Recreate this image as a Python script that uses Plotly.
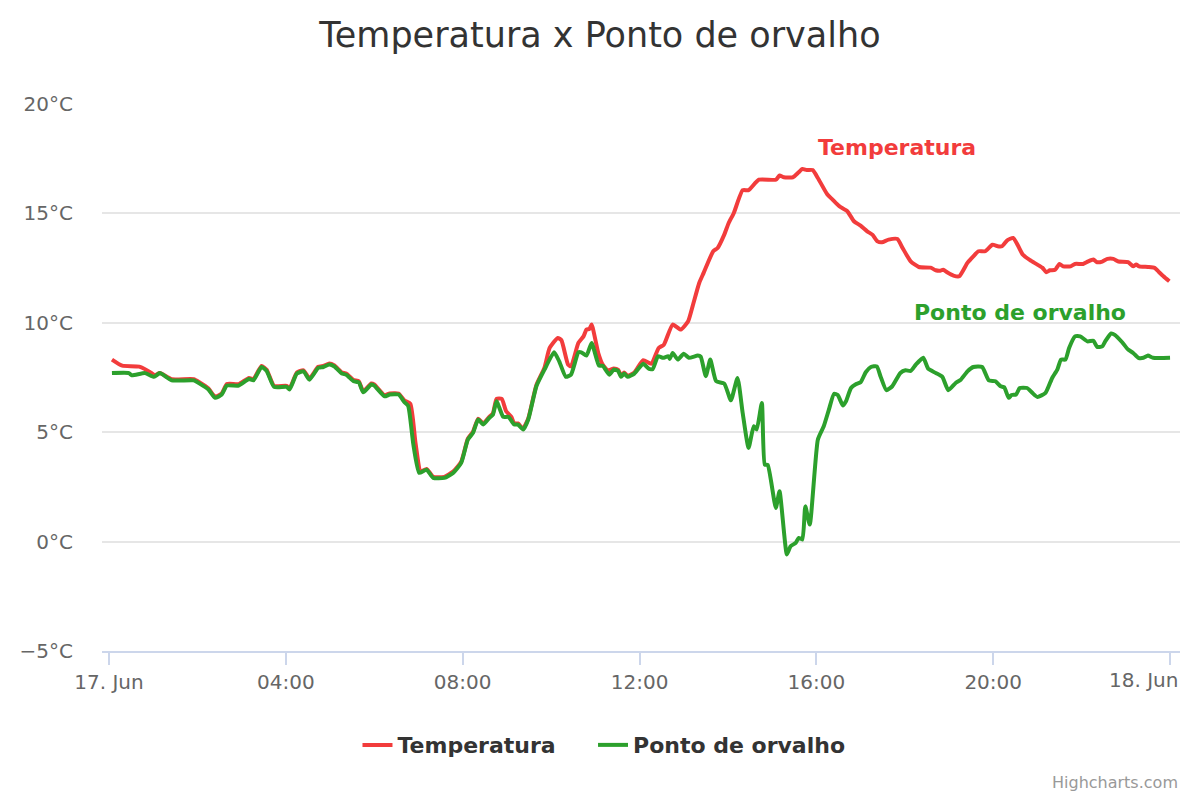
import pandas as pd
import plotly.graph_objects as go

# minutes after 17 Jun 00:00 and readings in °C
temp_min = [4, 18, 41, 58, 62, 69, 85, 115, 123, 135, 144, 153, 160, 176, 190, 196, 207, 214, 224, 241,
            245, 255, 264, 272, 284, 291, 299, 306, 316, 322, 332, 339, 345, 356, 360, 374, 381, 393, 401, 409,
            416, 423, 431, 440, 455, 467, 478, 487, 494, 501, 508, 516, 521, 526, 533, 539, 546, 550, 555, 562,
            569, 580, 591, 598, 609, 614, 623, 627, 637, 644, 648, 652, 655, 664, 670, 677, 685, 691, 695, 699,
            704, 713, 725, 736, 746, 753, 765, 776, 786, 792, 801, 807, 820, 826, 835, 841, 848, 860, 868, 882,
            905, 910, 916, 928, 936, 941, 947, 955, 962, 975, 982, 991, 1002, 1011, 1020, 1029, 1036, 1043, 1049, 1058,
            1070, 1077, 1088, 1099, 1115, 1122, 1128, 1132, 1138, 1146, 1154, 1165, 1173, 1180, 1189, 1199, 1206, 1212, 1219, 1227,
            1233, 1240, 1250, 1260, 1267, 1272, 1277, 1284, 1290, 1295, 1305, 1311, 1322, 1329, 1336, 1341, 1348, 1355, 1363, 1370,
            1383, 1390, 1394, 1398, 1410, 1419, 1424, 1431, 1439]
temp_val = [8.32, 8.04, 8.0, 7.7, 7.6, 7.7, 7.42, 7.42, 7.27, 7.0, 6.62, 6.77, 7.2, 7.2, 7.48, 7.42, 8.03, 7.85, 7.12, 7.12,
            7.0, 7.73, 7.83, 7.45, 7.99, 8.03, 8.14, 8.05, 7.73, 7.68, 7.38, 7.33, 6.87, 7.23, 7.18, 6.69, 6.77, 6.77, 6.45, 6.3,
            4.5, 3.2, 3.32, 2.96, 2.96, 3.2, 3.65, 4.7, 5.02, 5.62, 5.4, 5.7, 5.85, 6.52, 6.52, 5.96, 5.7, 5.4, 5.4, 5.17,
            5.63, 7.15, 7.95, 8.85, 9.31, 9.2, 8.09, 8.01, 9.08, 9.38, 9.69, 9.72, 9.92, 8.62, 8.09, 7.83, 7.91, 7.85, 7.58, 7.73,
            7.58, 7.73, 8.29, 8.13, 8.85, 9.0, 9.92, 9.69, 10.07, 10.75, 11.82, 12.28, 13.27, 13.42, 14.03, 14.56, 15.02, 16.06, 16.06, 16.54,
            16.54, 16.73, 16.65, 16.65, 16.88, 17.03, 16.98, 16.98, 16.62, 15.86, 15.63, 15.33, 15.1, 14.64, 14.44, 14.18, 14.03, 13.72, 13.68, 13.8,
            13.83, 13.42, 12.81, 12.55, 12.52, 12.4, 12.38, 12.43, 12.3, 12.16, 12.13, 12.74, 13.04, 13.27, 13.27, 13.57, 13.5, 13.5, 13.77, 13.88,
            13.57, 13.12, 12.86, 12.66, 12.51, 12.31, 12.4, 12.42, 12.69, 12.58, 12.58, 12.69, 12.69, 12.81, 12.89, 12.77, 12.8, 12.92, 12.92, 12.8,
            12.77, 12.58, 12.66, 12.58, 12.55, 12.51, 12.35, 12.13, 11.9]

dew_min = [4, 27, 31, 49, 61, 69, 85, 115, 123, 135, 144, 153, 160, 176, 190, 196, 207, 214, 224, 241,
           245, 255, 264, 272, 284, 291, 299, 306, 316, 322, 332, 339, 345, 356, 360, 374, 381, 393, 401, 406,
           413, 421, 431, 440, 455, 467, 478, 487, 494, 501, 508, 516, 521, 526, 535, 542, 550, 555, 562, 569,
           580, 591, 604, 611, 620, 627, 637, 641, 648, 655, 665, 670, 679, 685, 691, 695, 699, 704, 713, 725,
           733, 738, 745, 752, 759, 761, 765, 772, 780, 787, 799, 803, 810, 816, 824, 835, 844, 853, 860, 868,
           875, 879, 886, 890, 894, 905, 910, 920, 925, 932, 936, 941, 945, 951, 962, 970, 977, 984, 989, 996,
           1000, 1007, 1013, 1020, 1027, 1034, 1042, 1047, 1055, 1063, 1074, 1081, 1088, 1095, 1105, 1112, 1122, 1131, 1139, 1149,
           1156, 1165, 1173, 1185, 1194, 1203, 1210, 1215, 1221, 1225, 1231, 1236, 1246, 1253, 1260, 1271, 1280, 1287, 1292, 1298,
           1303, 1311, 1318, 1328, 1336, 1341, 1348, 1352, 1360, 1365, 1375, 1383, 1390, 1397, 1404, 1410, 1417, 1440]
dew_val = [7.7, 7.7, 7.6, 7.7, 7.53, 7.7, 7.37, 7.37, 7.22, 6.95, 6.57, 6.72, 7.13, 7.13, 7.43, 7.37, 7.98, 7.8, 7.07, 7.07,
           6.95, 7.68, 7.78, 7.4, 7.94, 7.98, 8.09, 8.0, 7.68, 7.63, 7.33, 7.28, 6.82, 7.18, 7.13, 6.64, 6.72, 6.72, 6.37, 6.2,
           4.45, 3.14, 3.29, 2.91, 2.91, 3.14, 3.6, 4.66, 4.97, 5.58, 5.35, 5.65, 5.8, 6.41, 5.7, 5.7, 5.35, 5.35, 5.12, 5.58,
           7.1, 7.86, 8.65, 8.24, 7.53, 7.63, 8.65, 8.65, 8.5, 9.08, 8.04, 8.04, 7.63, 7.86, 7.8, 7.53, 7.68, 7.53, 7.68, 8.13,
           7.89, 7.89, 8.47, 8.4, 8.47, 8.35, 8.62, 8.32, 8.59, 8.4, 8.5, 8.45, 7.56, 8.32, 7.33, 7.22, 6.46, 7.48, 5.88, 4.28,
           5.27, 5.12, 6.34, 3.52, 3.5, 1.54, 2.3, -0.59, -0.21, -0.06, 0.17, 0.1, 1.61, 0.78, 4.66, 5.27, 6.03, 6.76, 6.7, 6.22,
           6.4, 7.02, 7.18, 7.28, 7.74, 7.98, 8.01, 7.56, 6.92, 7.1, 7.71, 7.83, 7.8, 8.09, 8.4, 7.89, 7.71, 7.53, 6.92, 7.25,
           7.4, 7.78, 7.98, 7.98, 7.37, 7.33, 7.1, 7.05, 6.57, 6.7, 6.72, 7.02, 7.02, 6.8, 6.61, 6.8, 7.48, 7.86, 8.32, 8.32,
           8.85, 9.38, 9.38, 9.15, 9.18, 8.9, 8.92, 9.15, 9.51, 9.45, 9.11, 8.78, 8.62, 8.4, 8.4, 8.5, 8.4, 8.4]

tick_hours = [0, 4, 8, 12, 16, 20]
tick_text = ['17. Jun', '04:00', '08:00', '12:00', '16:00', '20:00']
end_label = '18. Jun'
y_ticks = [-5, 0, 5, 10, 15, 20]

day0 = pd.Timestamp('2023-06-17')
t_x = [day0 + pd.Timedelta(minutes=m) for m in temp_min]
d_x = [day0 + pd.Timedelta(minutes=m) for m in dew_min]

RED = '#f23c3c'
GREEN = '#2ca02c'
FONT = 'DejaVu Sans'

fig = go.Figure()
fig.add_trace(go.Scatter(x=t_x, y=temp_val, name='Temperatura', mode='lines', legend='legend',
                         line=dict(color=RED, width=4, shape='spline', smoothing=0.5)))
fig.add_trace(go.Scatter(x=d_x, y=dew_val, name='Ponto de orvalho', mode='lines', legend='legend2',
                         line=dict(color=GREEN, width=4, shape='spline', smoothing=0.5)))

# series labels inside the plot
fig.add_annotation(x=day0 + pd.Timedelta(minutes=1070), y=18.0, text='<b>Temperatura</b>',
                   showarrow=False, font=dict(color=RED, size=22, family=FONT))
fig.add_annotation(x=day0 + pd.Timedelta(minutes=1236), y=10.45, text='<b>Ponto de orvalho</b>',
                   showarrow=False, font=dict(color=GREEN, size=22, family=FONT))
# last x label, pulled inside like highcharts does
fig.add_annotation(xref='paper', yref='paper', x=1.0, y=-0.053, xanchor='right', yanchor='middle',
                   text=end_label, showarrow=False, font=dict(color='#666666', size=20, family=FONT))
fig.add_annotation(xref='paper', yref='paper', x=1.0, y=-0.241, xanchor='right', yanchor='middle',
                   text='Highcharts.com', showarrow=False, font=dict(color='#999999', size=16, family=FONT))

legend_style = dict(orientation='h', xanchor='left', y=-0.172, yanchor='middle',
                    font=dict(size=22, color='#333333', family=FONT, weight='bold'), itemwidth=30)

fig.update_layout(
    width=1200, height=800,
    paper_bgcolor='white', plot_bgcolor='white',
    margin=dict(l=92, r=28, t=96, b=157),
    title=dict(text='Temperatura x Ponto de orvalho', x=0.4933, xanchor='center', y=0.966, yanchor='middle',
               font=dict(size=35, color='#333333', family=FONT)),
    font=dict(family=FONT, color='#666666'),
    showlegend=True,
    legend=dict(x=0.237, **legend_style),
    legend2=dict(x=0.4555, **legend_style),
    hovermode='x unified',
)
fig.update_xaxes(
    range=[day0 - pd.Timedelta(minutes=9.5), day0 + pd.Timedelta(minutes=1453.5)],
    tickvals=[day0 + pd.Timedelta(hours=h) for h in tick_hours + [24]], ticktext=tick_text + [''],
    showgrid=False, showline=True, linecolor='#ccd6eb', linewidth=1.5,
    ticks='outside', ticklen=12, tickcolor='#ccd6eb', tickwidth=1.5,
    tickfont=dict(size=20, color='#666666'), zeroline=False,
)
fig.update_yaxes(
    range=[-5, 20], tickvals=y_ticks, ticktext=[f'{v}°C'.replace('-', '−') for v in y_ticks],
    showgrid=True, gridcolor='#e6e6e6', gridwidth=1.5, zeroline=False, showline=False,
    ticks='', tickfont=dict(size=20, color='#666666'), ticklabelstandoff=28,
)

fig.write_html('out.html')
